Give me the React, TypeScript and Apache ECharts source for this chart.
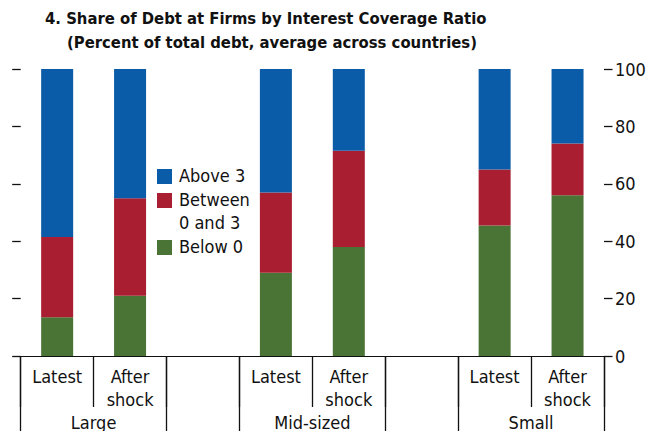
import React, { useEffect, useRef } from "react";
import * as echarts from "echarts";

const categories = ["Latest", "After\nshock", "", "Latest", "After\nshock", "", "Latest", "After\nshock"];
const groupLabels = ["Large", "Mid-sized", "Small"];
const belowZero = [13.5, 21, null, 29, 38, null, 45.5, 56];
const between0and3 = [28, 34, null, 28, 33.5, null, 19.5, 18];
const above3 = [58.5, 45, null, 43, 28.5, null, 35, 26];
const seriesNames = ["Above 3", "Between\n0 and 3", "Below 0"];
const colors = ["#0b5ca8", "#a91e30", "#4a7336"];

// half-slot positions for group labels and long separators
const groupAxisData = Array.from({ length: 17 }, (_, i) =>
  i === 2 ? groupLabels[0] : i === 8 ? groupLabels[1] : i === 14 ? groupLabels[2] : ""
);
const longTickIdx = [0, 4, 6, 10, 12, 16];

const FONT = "'DejaVu Sans Condensed', 'Liberation Sans Narrow', sans-serif";

export default function App() {
  const ref = useRef<HTMLDivElement>(null);
  useEffect(() => {
    if (!ref.current) return;
    const chart = echarts.init(ref.current, null, { renderer: "svg" });
    const legendY = [169, 193, 240];
    const legendLines = [["Above 3"], ["Between", "0 and 3"], ["Below 0"]];
    const graphics: any[] = [];
    legendY.forEach((y, i) => {
      graphics.push({ type: "rect", left: 157, top: y, shape: { width: 15, height: 15 }, style: { fill: colors[i] } });
      legendLines[i].forEach((t, j) => {
        graphics.push({
          type: "text", left: 179, top: y - 3 + j * 23.5,
          style: { text: t, font: `18px ${FONT}`, fill: "#111" },
        });
      });
    });
    chart.setOption({
      animation: false,
      title: [
        { text: "4. Share of Debt at Firms by Interest Coverage Ratio", left: 45, top: 10, padding: 0,
          textStyle: { fontFamily: FONT, fontWeight: "bold", fontSize: 16.5, color: "#111" } },
        { text: "(Percent of total debt, average across countries)", left: 67, top: 34, padding: 0,
          textStyle: { fontFamily: FONT, fontWeight: "bold", fontSize: 16.5, color: "#111" } },
      ],
      grid: { left: 20.7, right: 56, top: 69, bottom: 83, containLabel: false },
      graphic: graphics,
      xAxis: [
        {
          type: "category", position: "bottom", data: categories, boundaryGap: true,
          axisLine: { show: true, lineStyle: { color: "#111", width: 1.2 } },
          axisTick: { show: true, interval: 0, length: 51, lineStyle: { color: "#111", width: 1.3 } },
          axisLabel: { interval: 0, margin: 9, fontFamily: FONT, fontSize: 18, lineHeight: 23, color: "#111" },
        },
        {
          type: "category", position: "bottom", data: groupAxisData, boundaryGap: false,
          axisLine: { show: false },
          axisTick: { show: true, interval: (idx: number) => longTickIdx.includes(idx), length: 90, lineStyle: { color: "#111", width: 1.3 } },
          axisLabel: { interval: 0, margin: 57, fontFamily: FONT, fontSize: 18, color: "#111" },
        },
      ],
      yAxis: [
        {
          type: "value", position: "left", min: 0, max: 100, interval: 20,
          axisLine: { show: false }, splitLine: { show: false },
          axisTick: { show: true, length: 8.5, lineStyle: { color: "#111", width: 1.3 } },
          axisLabel: { show: false },
        },
        {
          type: "value", position: "right", min: 0, max: 100, interval: 20,
          axisLine: { show: false }, splitLine: { show: false },
          axisTick: { show: true, length: 8.5, lineStyle: { color: "#111", width: 1.3 } },
          axisLabel: { show: true, margin: 11, fontFamily: FONT, fontSize: 18, color: "#111" },
        },
      ],
      series: [
        { name: "Below 0", type: "bar", stack: "t", data: belowZero, barWidth: 32, itemStyle: { color: colors[2] } },
        { name: seriesNames[1], type: "bar", stack: "t", data: between0and3, barWidth: 32, itemStyle: { color: colors[1] } },
        { name: "Above 3", type: "bar", stack: "t", data: above3, barWidth: 32, itemStyle: { color: colors[0] } },
      ],
    });
    return () => chart.dispose();
  }, []);
  return <div ref={ref} style={{ width: 660, height: 439, margin: -8 }} />;
}
